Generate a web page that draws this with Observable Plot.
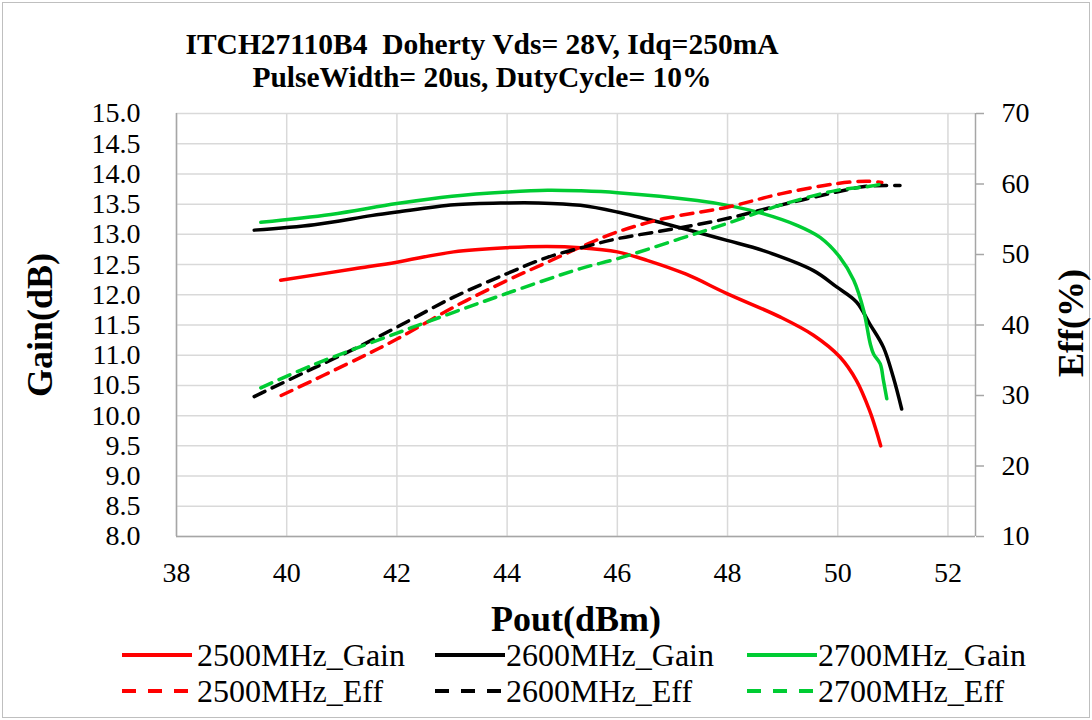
<!DOCTYPE html>
<html><head><meta charset="utf-8">
<script src="https://cdn.jsdelivr.net/npm/d3@7"></script>
<script src="https://cdn.jsdelivr.net/npm/@observablehq/plot@0.6"></script>
<style>
body{margin:0;background:#fff;}
#wrap{position:relative;width:1092px;height:720px;font-family:"Liberation Serif","Times New Roman",serif;overflow:hidden;background:#fff;}
#frame{position:absolute;left:2px;top:2px;width:1088px;height:716px;border:1px solid #bfbfbf;box-sizing:border-box;}
.title{position:absolute;left:0;width:964px;text-align:center;font-weight:bold;font-size:29.5px;white-space:pre;line-height:1;}
.axt{position:absolute;font-weight:bold;font-size:36px;white-space:nowrap;line-height:1;}
#chart{position:absolute;left:0;top:0;}
.leg{position:absolute;font-size:32px;white-space:nowrap;line-height:1;}
</style></head>
<body>
<div id="wrap">
  <div id="frame"></div>
  <div id="chart"></div>
  <div class="title" style="top:30px">ITCH27110B4  Doherty Vds= 28V, Idq=250mA</div>
  <div class="title" style="top:63px">PulseWidth= 20us, DutyCycle= 10%</div>
  <div class="axt" style="left:40px;top:325px;transform:translate(-50%,-50%) rotate(-90deg)">Gain(dB)</div>
  <div class="axt" style="left:1071px;top:323px;transform:translate(-50%,-50%) rotate(-90deg)">Eff(%)</div>
  <div class="axt" style="left:576px;top:619px;transform:translate(-50%,-50%)">Pout(dBm)</div>
  <div id="legend"></div>
</div>
<script>
// ---- data ----
const x2500Gain = [39.89, 41.23, 42.0, 43.03, 44.0, 44.73, 45.33, 46.0, 46.54, 47.25, 47.99, 48.96, 49.56, 50.04, 50.34, 50.58, 50.70, 50.78];
const gain2500  = [12.24, 12.43, 12.54, 12.71, 12.78, 12.80, 12.78, 12.71, 12.57, 12.34, 12.02, 11.63, 11.33, 10.97, 10.58, 10.08, 9.75, 9.50];
const x2600Gain = [39.41, 40.5, 41.53, 42.0, 43.04, 44.0, 44.55, 45.33, 46.0, 46.85, 47.99, 48.65, 49.56, 49.98, 50.34, 50.58, 50.83, 51.01, 51.16];
const gain2600  = [13.07, 13.16, 13.31, 13.37, 13.49, 13.52, 13.52, 13.48, 13.37, 13.18, 12.90, 12.73, 12.40, 12.13, 11.88, 11.52, 11.13, 10.63, 10.11];
const x2700Gain = [39.53, 40.8, 42.0, 43.0, 44.0, 44.73, 45.34, 46.0, 47.45, 48.0, 48.66, 49.26, 49.68, 50.04, 50.29, 50.47, 50.59, 50.65, 50.77, 50.83, 50.89];
const gain2700  = [13.20, 13.33, 13.51, 13.63, 13.70, 13.73, 13.72, 13.69, 13.56, 13.48, 13.34, 13.15, 12.95, 12.62, 12.24, 11.74, 11.19, 11.02, 10.86, 10.58, 10.28];

const x2500Eff = [39.9, 41.29, 42.01, 43.03, 44.0, 44.7, 45.33, 46.0, 46.85, 47.99, 48.96, 49.98, 50.52, 50.8];
const eff2500  = [30.0, 35.2, 38.04, 42.53, 46.32, 48.8, 51.05, 53.2, 55.1, 56.7, 58.6, 60.05, 60.4, 60.2];
const x2600Eff = [39.41, 40.33, 41.29, 42.0, 43.03, 44.0, 44.73, 45.39, 46.0, 47.0, 47.99, 48.96, 49.98, 50.52, 51.13];
const eff2600  = [29.85, 33.3, 36.85, 39.7, 43.95, 47.3, 49.6, 51.05, 52.24, 53.6, 55.1, 57.0, 58.86, 59.67, 59.8];
const x2700Eff = [39.53, 40.45, 42.0, 43.03, 44.0, 45.33, 46.0, 47.14, 47.99, 48.96, 49.98, 50.58, 50.83];
const eff2700  = [31.08, 34.25, 38.85, 41.8, 44.5, 48.0, 49.4, 52.24, 54.4, 57.0, 59.1, 59.67, 60.05];

const xTicks = [38, 40, 42, 44, 46, 48, 50, 52];
const gainTicks = [8.0, 8.5, 9.0, 9.5, 10.0, 10.5, 11.0, 11.5, 12.0, 12.5, 13.0, 13.5, 14.0, 14.5, 15.0];
const effTicks = [10, 20, 30, 40, 50, 60, 70];
const seriesNames = ["2500MHz_Gain", "2600MHz_Gain", "2700MHz_Gain", "2500MHz_Eff", "2600MHz_Eff", "2700MHz_Eff"];
const seriesColors = ["#ff0000", "#000000", "#00cc33", "#ff0000", "#000000", "#00cc33"];

// ---- build ----
const gMin = 8, gMax = 15, eMin = 10, eMax = 70;
const effToGain = e => gMin + (e - eMin) / (eMax - eMin) * (gMax - gMin);
const gainToEff = g => eMin + (g - gMin) / (gMax - gMin) * (eMax - eMin);

const rows = [];
function add(name, xs, ys, isEff) {
  xs.forEach((x, i) => rows.push({series: name, x, y: isEff ? effToGain(ys[i]) : ys[i]}));
}
add(seriesNames[0], x2500Gain, gain2500, false);
add(seriesNames[1], x2600Gain, gain2600, false);
add(seriesNames[2], x2700Gain, gain2700, false);
add(seriesNames[3], x2500Eff, eff2500, true);
add(seriesNames[4], x2600Eff, eff2600, true);
add(seriesNames[5], x2700Eff, eff2700, true);

const gainRows = rows.filter(d => d.series.endsWith("Gain"));
const effRows = rows.filter(d => d.series.endsWith("Eff"));
const font = '"Liberation Serif","Times New Roman",serif';
const gridC = "#d9d9d9", axisC = "#a6a6a6";

const chart = Plot.plot({
  width: 1092, height: 620,
  marginTop: 113, marginBottom: 84, marginLeft: 176, marginRight: 117,
  style: {fontFamily: font, fontSize: "28px", color: "#000", background: "transparent"},
  x: {domain: [38, 52.5]},
  y: {domain: [gMin, gMax]},
  color: {domain: seriesNames, range: seriesColors},
  marks: [
    Plot.gridY(gainTicks, {stroke: gridC, strokeOpacity: 1, strokeWidth: 1.5}),
    Plot.gridX(xTicks, {stroke: gridC, strokeOpacity: 1, strokeWidth: 1.5}),
    Plot.ruleX([38], {stroke: axisC, strokeWidth: 1.5}),
    Plot.ruleX([52.5], {stroke: axisC, strokeWidth: 1.5}),
    Plot.ruleY([gMin], {stroke: axisC, strokeWidth: 1.5}),
    Plot.axisX({ticks: xTicks, tickSize: 0, tickPadding: 26, tickFormat: d => String(d), label: null, fontSize: 28, fontFamily: font}),
    Plot.axisY({anchor: "left", ticks: gainTicks, tickSize: 0, tickPadding: 36, tickFormat: d3.format(".1f"), label: null, fontSize: 28, fontFamily: font}),
    Plot.axisY({anchor: "right", ticks: effTicks.map(effToGain), tickSize: 8, tickPadding: 18, stroke: axisC, strokeWidth: 1.5, tickFormat: g => String(Math.round(gainToEff(g))), label: null, fontSize: 28, fontFamily: font}),
    Plot.line(gainRows, {x: "x", y: "y", z: "series", stroke: "series", strokeWidth: 3.5, curve: "catmull-rom"}),
    Plot.line(effRows, {x: "x", y: "y", z: "series", stroke: "series", strokeWidth: 3.5, strokeDasharray: "12,8", curve: "catmull-rom"})
  ]
});
document.getElementById("chart").appendChild(chart);

// ---- legend ----
const legPos = [
  {lx: 122, tx: 197, y: 655}, {lx: 435, tx: 506, y: 655}, {lx: 747, tx: 818, y: 655},
  {lx: 122, tx: 197, y: 691}, {lx: 435, tx: 506, y: 691}, {lx: 747, tx: 818, y: 691}
];
const legend = document.getElementById("legend");
seriesNames.forEach((name, i) => {
  const p = legPos[i];
  const dashed = name.endsWith("Eff");
  const s = document.createElementNS("http://www.w3.org/2000/svg", "svg");
  s.setAttribute("width", 72); s.setAttribute("height", 10);
  s.style.position = "absolute"; s.style.left = p.lx + "px"; s.style.top = (p.y - 5) + "px";
  const ln = document.createElementNS("http://www.w3.org/2000/svg", "line");
  ln.setAttribute("x1", 0); ln.setAttribute("x2", 70); ln.setAttribute("y1", 5); ln.setAttribute("y2", 5);
  ln.setAttribute("stroke", seriesColors[i]); ln.setAttribute("stroke-width", 4);
  if (dashed) ln.setAttribute("stroke-dasharray", "14,12");
  s.appendChild(ln);
  legend.appendChild(s);
  const t = document.createElement("div");
  t.className = "leg"; t.textContent = name;
  t.style.left = p.tx + "px"; t.style.top = (p.y - 16) + "px";
  legend.appendChild(t);
});
</script>
</body></html>
